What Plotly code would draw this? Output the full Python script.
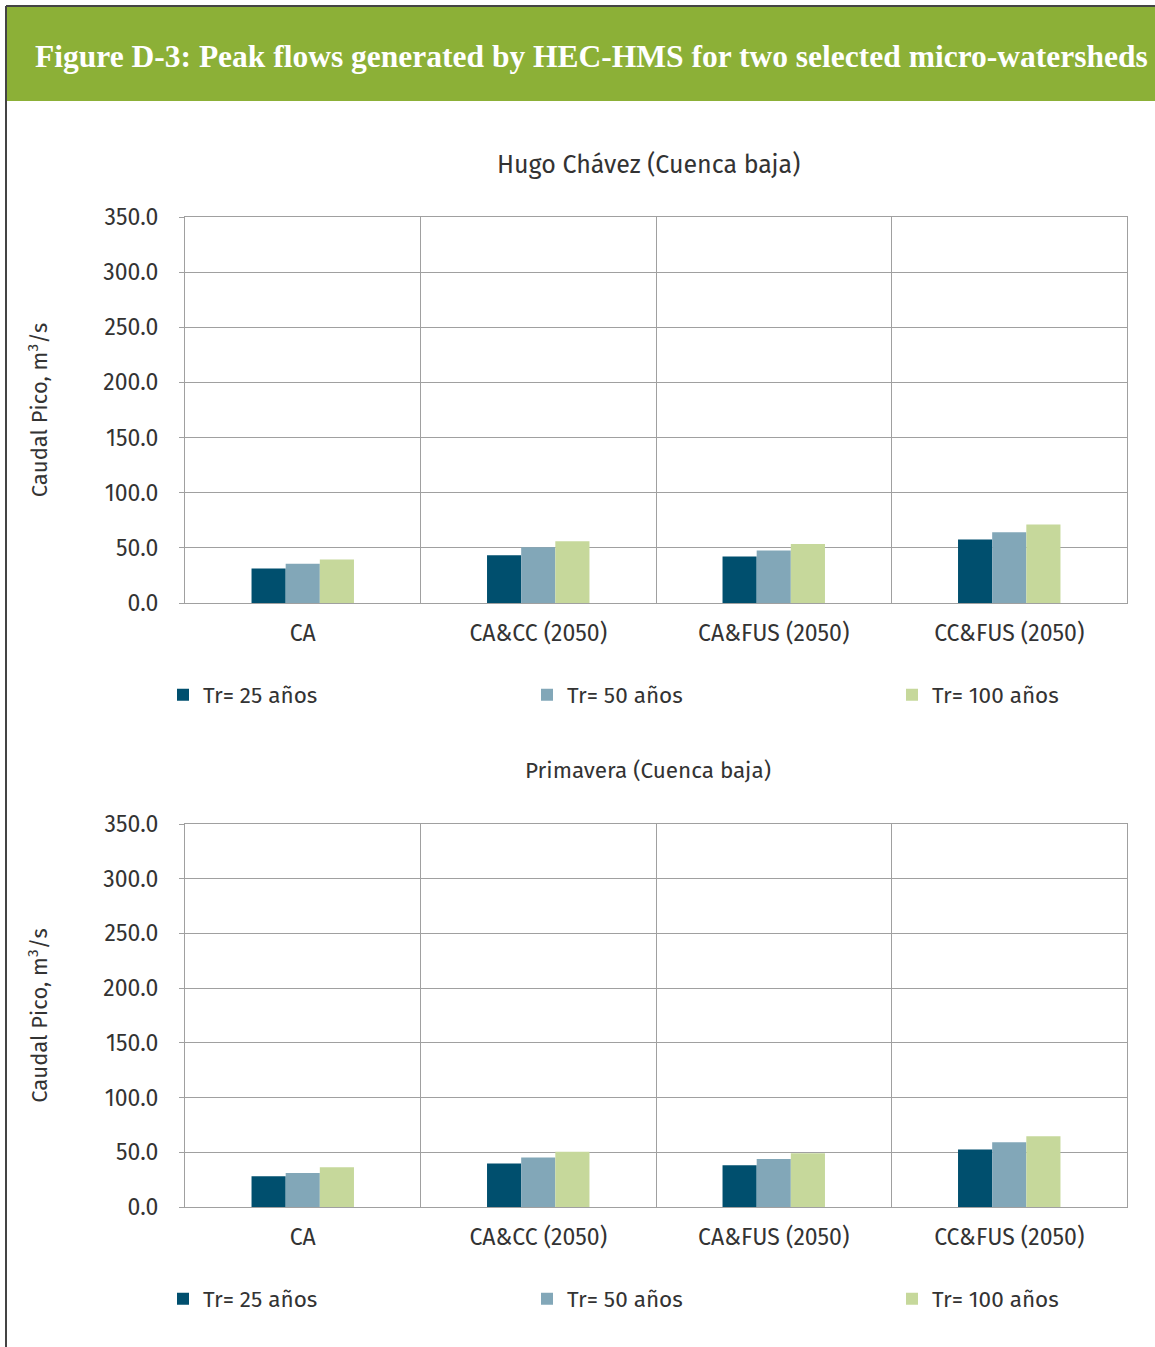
import plotly.graph_objects as go

categories = ["CA", "CA&CC (2050)", "CA&FUS (2050)", "CC&FUS (2050)"]
series_names = ["Tr= 25 años", "Tr= 50 años", "Tr= 100 años"]
hugo_tr25 = [31.2, 43.3, 42.1, 57.6]
hugo_tr50 = [35.5, 50.6, 47.6, 64.2]
hugo_tr100 = [39.4, 56.1, 53.6, 71.2]
prim_tr25 = [28.1, 39.7, 38.1, 52.5]
prim_tr50 = [31.1, 45.2, 43.9, 59.1]
prim_tr100 = [36.3, 50.6, 49.1, 64.6]
y_ticks = [0, 50, 100, 150, 200, 250, 300, 350]
y_tick_labels = ["0.0", "50.0", "100.0", "150.0", "200.0", "250.0", "300.0", "350.0"]
chart_titles = ["Hugo Chávez (Cuenca baja)", "Primavera (Cuenca baja)"]
figure_title = "Figure D-3: Peak flows generated by HEC-HMS for two selected micro-watersheds"
y_title = "Caudal Pico, m<sup>3</sup>/s"

colors = ["#004F6E", "#82A7B8", "#C6D89B"]
W, H = 1155, 1347
SANS = "Fira Sans, Noto Sans, Open Sans, sans-serif"
TXT = "#333333"
GRID = "#A0A0A0"


def py(px):
    return 1 - px / H


def px_x(px):
    return px / W


fig = go.Figure()

legend_x_px = [163, 527, 892]
panels = [
    ([hugo_tr25, hugo_tr50, hugo_tr100], "x", "y", ["legend", "legend2", "legend3"], 695),
    ([prim_tr25, prim_tr50, prim_tr100], "x2", "y2", ["legend4", "legend5", "legend6"], 1299),
]
legend_layout = {}
for vals, xa, ya, lgs, ly in panels:
    for name, v, c, lg, lx in zip(series_names, vals, colors, lgs, legend_x_px):
        fig.add_trace(go.Bar(
            x=categories, y=v, name=name, marker=dict(color=c, line=dict(width=0)),
            xaxis=xa, yaxis=ya, legend=lg,
        ))
        legend_layout[lg] = dict(
            orientation="h", x=px_x(lx), y=py(ly), xanchor="left", yanchor="middle",
            font=dict(family=SANS, size=22.5, color=TXT), bgcolor="rgba(0,0,0,0)",
            borderwidth=0, itemclick=False, itemdoubleclick=False,
        )

x_dom = [px_x(185), px_x(1127)]
doms_y = [[py(603), py(217)], [py(1207), py(824)]]

axis_common_x = dict(
    domain=x_dom, type="category", tickson="boundaries", showgrid=True,
    gridcolor=GRID, gridwidth=1, showline=True, linecolor=GRID, linewidth=1, mirror=True,
    ticks="", tickfont=dict(family=SANS, size=23, color=TXT), ticklabelstandoff=9,
    fixedrange=True,
)
axis_common_y = dict(
    range=[0, 350], tickvals=y_ticks, ticktext=y_tick_labels, showgrid=True,
    gridcolor=GRID, gridwidth=1, showline=True, linecolor=GRID, linewidth=1, mirror=True,
    ticks="outside", ticklen=5, tickcolor=GRID, ticklabelstandoff=16,
    tickfont=dict(family=SANS, size=23, color=TXT), zeroline=False,
    title=dict(text=y_title, font=dict(family=SANS, size=22, color=TXT), standoff=49),
    fixedrange=True,
)

fig.update_layout(
    width=W, height=H, margin=dict(l=0, r=0, t=0, b=0, autoexpand=False),
    paper_bgcolor="white", plot_bgcolor="white",
    barmode="group", bargap=0.565, bargroupgap=0,
    xaxis=dict(axis_common_x, anchor="y"),
    yaxis=dict(axis_common_y, domain=doms_y[0], anchor="x"),
    xaxis2=dict(axis_common_x, anchor="y2"),
    yaxis2=dict(axis_common_y, domain=doms_y[1], anchor="x2"),
    showlegend=True,
    **legend_layout,
)

# Banner and frame
fig.add_shape(type="rect", xref="paper", yref="paper", x0=px_x(6), x1=1.0, y0=py(101), y1=py(6),
              fillcolor="#8CB037", line=dict(width=0), layer="below")
fig.add_shape(type="line", xref="paper", yref="paper", x0=px_x(6), x1=1.0, y0=py(6), y1=py(6),
              line=dict(color="#444444", width=2))
fig.add_shape(type="line", xref="paper", yref="paper", x0=px_x(6), x1=px_x(6), y0=0, y1=py(6),
              line=dict(color="#444444", width=2))

fig.add_annotation(text="<b>" + figure_title + "</b>", xref="paper", yref="paper",
                   x=px_x(33), y=py(56), xanchor="left", yanchor="middle", showarrow=False,
                   font=dict(family="Liberation Serif, DejaVu Serif, serif", size=31.5, color="white"))
for t, ypx, fs in zip(chart_titles, [165, 770], [25, 22.5]):
    fig.add_annotation(text=t, xref="paper", yref="paper", x=px_x(648), y=py(ypx),
                       xanchor="center", yanchor="middle", showarrow=False,
                       font=dict(family=SANS, size=fs, color=TXT))

fig.write_html("out.html", config={"displayModeBar": False},
               post_script="document.body.style.margin='0';document.body.style.overflow='hidden';")
